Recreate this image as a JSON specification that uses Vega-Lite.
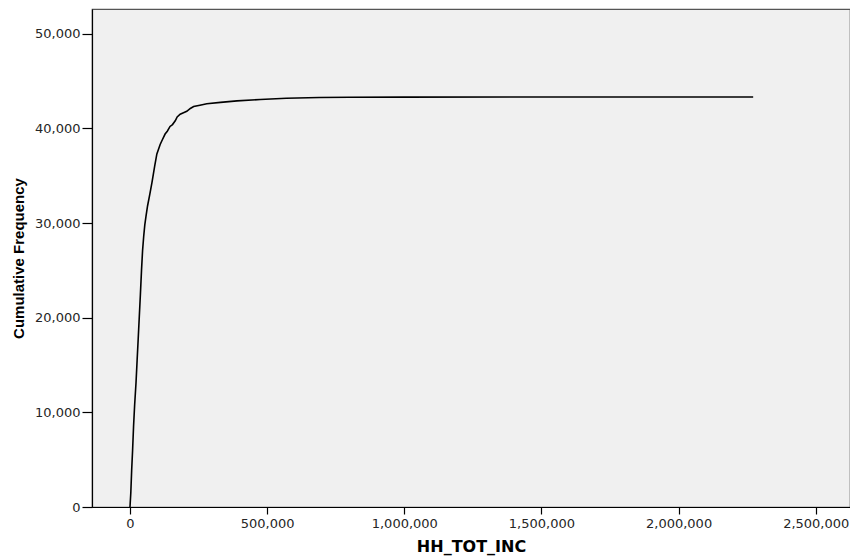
{
  "$schema": "https://vega.github.io/schema/vega-lite/v6.json",
  "width": 758,
  "height": 498,
  "autosize": {"type": "none"},
  "padding": {"left": 92, "top": 9, "right": 0, "bottom": 51},
  "background": "white",
  "config": {
    "view": {"fill": "#f0f0f0", "stroke": "#555555", "strokeWidth": 1.2},
    "axis": {
      "grid": false,
      "domainColor": "#000000",
      "domainWidth": 1.2,
      "tickColor": "#000000",
      "tickWidth": 1.2,
      "labelFont": "DejaVu Sans",
      "labelFontSize": 13,
      "labelColor": "#262626",
      "titleColor": "#000000",
      "titleFontWeight": "bold"
    }
  },
  "data": {
    "values": [
      {"income": 0, "cumfreq": 0},
      {"income": 3000, "cumfreq": 1500},
      {"income": 6000, "cumfreq": 3800},
      {"income": 9500, "cumfreq": 6000},
      {"income": 13000, "cumfreq": 8500},
      {"income": 17000, "cumfreq": 10800},
      {"income": 21900, "cumfreq": 13100},
      {"income": 26000, "cumfreq": 15500},
      {"income": 30000, "cumfreq": 17800},
      {"income": 33900, "cumfreq": 20100},
      {"income": 38000, "cumfreq": 22500},
      {"income": 42000, "cumfreq": 25000},
      {"income": 45900, "cumfreq": 27100},
      {"income": 50000, "cumfreq": 28600},
      {"income": 54000, "cumfreq": 29800},
      {"income": 58300, "cumfreq": 30700},
      {"income": 64000, "cumfreq": 31800},
      {"income": 72000, "cumfreq": 33000},
      {"income": 80200, "cumfreq": 34300},
      {"income": 90000, "cumfreq": 36000},
      {"income": 98000, "cumfreq": 37300},
      {"income": 104000, "cumfreq": 37800},
      {"income": 110000, "cumfreq": 38300},
      {"income": 118000, "cumfreq": 38800},
      {"income": 128000, "cumfreq": 39400},
      {"income": 136000, "cumfreq": 39700},
      {"income": 146000, "cumfreq": 40200},
      {"income": 155000, "cumfreq": 40400},
      {"income": 165000, "cumfreq": 40800},
      {"income": 172000, "cumfreq": 41200},
      {"income": 183000, "cumfreq": 41500},
      {"income": 195000, "cumfreq": 41650},
      {"income": 207000, "cumfreq": 41800},
      {"income": 220000, "cumfreq": 42100},
      {"income": 232000, "cumfreq": 42300},
      {"income": 255000, "cumfreq": 42450},
      {"income": 280000, "cumfreq": 42600},
      {"income": 330000, "cumfreq": 42750},
      {"income": 390000, "cumfreq": 42900},
      {"income": 475000, "cumfreq": 43050},
      {"income": 570000, "cumfreq": 43180},
      {"income": 690000, "cumfreq": 43260},
      {"income": 800000, "cumfreq": 43290},
      {"income": 1000000, "cumfreq": 43300},
      {"income": 1500000, "cumfreq": 43310},
      {"income": 2000000, "cumfreq": 43320},
      {"income": 2272000, "cumfreq": 43320}
    ]
  },
  "mark": {"type": "line", "color": "#000000", "strokeWidth": 1.6, "clip": true},
  "encoding": {
    "x": {
      "field": "income",
      "type": "quantitative",
      "scale": {"domain": [-138500, 2625000], "nice": false, "zero": false},
      "axis": {
        "title": "HH_TOT_INC",
        "values": [0, 500000, 1000000, 1500000, 2000000, 2500000],
        "format": ",d",
        "tickSize": 7,
        "labelPadding": 3,
        "titlePadding": 8,
        "titleFont": "DejaVu Sans",
        "titleFontSize": 16
      }
    },
    "y": {
      "field": "cumfreq",
      "type": "quantitative",
      "scale": {"domain": [0, 52610], "nice": false, "zero": true},
      "axis": {
        "title": "Cumulative Frequency",
        "values": [0, 10000, 20000, 30000, 40000, 50000],
        "format": ",d",
        "tickSize": 10,
        "labelPadding": 2,
        "titlePadding": 8,
        "titleFont": "Liberation Sans",
        "titleFontSize": 15
      }
    }
  }
}
